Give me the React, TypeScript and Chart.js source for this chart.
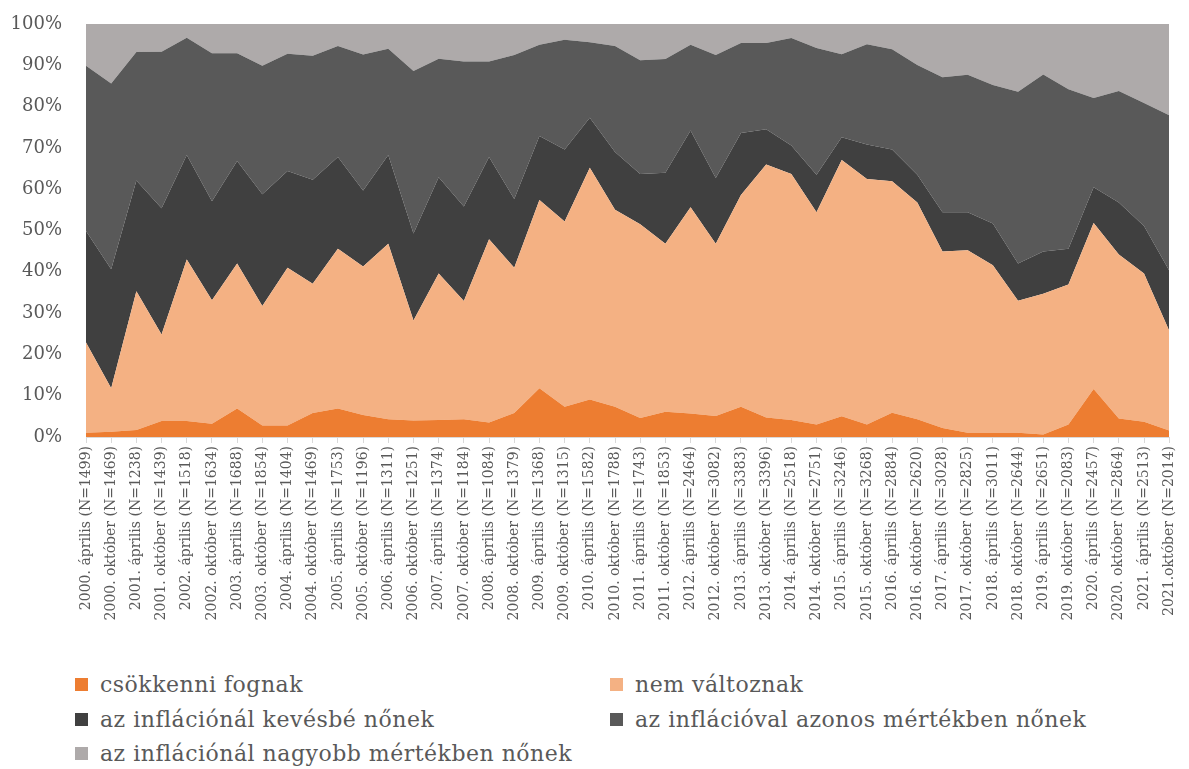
import React, { useEffect, useRef } from "react";
import { Chart, registerables } from "chart.js";

Chart.register(...registerables);

const categories = [
  "2000. április (N=1499)", "2000. október (N=1469)", "2001. április (N=1238)", "2001. október (N=1439)",
  "2002. április (N=1518)", "2002. október (N=1634)", "2003. április (N=1688)", "2003. október (N=1854)",
  "2004. április (N=1404)", "2004. október (N=1469)", "2005. április (N=1753)", "2005. október (N=1196)",
  "2006. április (N=1311)", "2006. október (N=1251)", "2007. április (N=1374)", "2007. október (N=1184)",
  "2008. április (N=1084)", "2008. október (N=1379)", "2009. április (N=1368)", "2009. október (N=1315)",
  "2010. április (N=1582)", "2010. október (N=1788)", "2011. április (N=1743)", "2011. október (N=1853)",
  "2012. április (N=2464)", "2012. október (N=3082)", "2013. április (N=3383)", "2013. október (N=3396)",
  "2014. április (N=2518)", "2014. október (N=2751)", "2015. április (N=3246)", "2015. október (N=3268)",
  "2016. április (N=2884)", "2016. október (N=2620)", "2017. április (N=3028)", "2017. október (N=2825)",
  "2018. április (N=3011)", "2018. október (N=2644)", "2019. április (N=2651)", "2019. október (N=2083)",
  "2020. április (N=2457)", "2020. október (N=2864)", "2021. április (N=2513)", "2021.október (N=2014)",
];

const csokkenni = [
  1.0, 1.3, 1.7, 3.9, 3.9, 3.2, 6.9, 2.8, 2.8, 5.8, 6.9, 5.3, 4.3, 4.0, 4.1, 4.3, 3.5, 5.8, 11.8, 7.3,
  9.1, 7.3, 4.6, 6.1, 5.7, 5.1, 7.3, 4.7, 4.1, 3.0, 5.0, 3.0, 5.9, 4.3, 2.2, 1.0, 1.0, 1.0, 0.6, 3.0,
  11.6, 4.5, 3.7, 1.6,
];
const nemValtoznak = [
  21.9, 10.5, 33.6, 20.9, 39.1, 29.9, 35.1, 28.9, 38.2, 31.3, 38.7, 36.0, 42.5, 24.2, 35.5, 28.6, 44.4, 35.2, 45.6, 44.9,
  56.1, 47.7, 46.9, 40.7, 49.9, 41.7, 51.3, 61.3, 59.6, 51.4, 62.1, 59.5, 56.0, 52.5, 42.7, 44.2, 40.6, 32.0, 34.1, 33.9,
  40.2, 39.7, 35.9, 24.1,
];
const kevesbe = [
  27.0, 28.8, 26.8, 30.6, 25.3, 24.0, 24.8, 27.1, 23.4, 25.2, 22.2, 18.4, 21.5, 21.1, 23.3, 22.9, 19.9, 16.6, 15.5, 17.4,
  12.1, 14.0, 12.2, 17.2, 18.6, 15.9, 15.0, 8.5, 6.9, 9.1, 5.5, 8.3, 7.7, 6.7, 9.5, 9.2, 10.1, 9.0, 10.2, 8.7,
  8.7, 12.6, 11.5, 14.6,
];
const azonos = [
  40.0, 45.0, 31.1, 37.9, 28.4, 35.8, 26.1, 31.1, 28.4, 30.0, 26.9, 32.9, 25.7, 39.3, 28.7, 35.1, 23.1, 34.9, 22.1, 26.6,
  18.3, 25.7, 27.5, 27.5, 20.8, 29.8, 21.8, 20.9, 26.0, 30.7, 20.1, 24.3, 24.3, 26.6, 32.7, 33.3, 33.5, 41.6, 42.9, 38.6,
  21.6, 27.0, 29.8, 37.6,
];
const nagyobb = [
  10.1, 14.4, 6.8, 6.7, 3.3, 7.1, 7.1, 10.1, 7.2, 7.7, 5.3, 7.4, 6.0, 11.4, 8.4, 9.1, 9.1, 7.5, 5.0, 3.8,
  4.4, 5.3, 8.8, 8.5, 5.0, 7.5, 4.6, 4.6, 3.4, 5.8, 7.3, 4.9, 6.1, 9.9, 12.9, 12.3, 14.8, 16.4, 12.2, 15.8,
  17.9, 16.2, 19.1, 22.1,
];

const seriesNames = [
  "csökkenni fognak",
  "nem változnak",
  "az inflációnál kevésbé nőnek",
  "az inflációval azonos mértékben nőnek",
  "az inflációnál nagyobb mértékben nőnek",
];
const seriesColors = ["#ED7D31", "#F4B183", "#404040", "#595959", "#AEAAAA"];
const yTicks = [0, 10, 20, 30, 40, 50, 60, 70, 80, 90, 100];

const FONT = "'DejaVu Serif', serif";
const TEXT = "#595959";

export default function App() {
  const ref = useRef<HTMLCanvasElement | null>(null);

  useEffect(() => {
    if (!ref.current) return;
    const values = [csokkenni, nemValtoznak, kevesbe, azonos, nagyobb];
    const chart = new Chart(ref.current, {
      type: "line",
      data: {
        labels: categories,
        datasets: values.map((v, i) => ({
          label: seriesNames[i],
          data: v,
          backgroundColor: seriesColors[i],
          borderColor: seriesColors[i],
          borderWidth: 0,
          pointRadius: 0,
          tension: 0,
          fill: i === 0 ? "origin" : "-1",
        })),
      },
      options: {
        animation: false,
        responsive: false,
        maintainAspectRatio: false,
        layout: { padding: { top: 24, right: 10, left: 0, bottom: 0 } },
        plugins: { legend: { display: false }, tooltip: { enabled: false } },
        scales: {
          x: {
            stacked: true,
            offset: false,
            grid: {
              drawOnChartArea: false,
              drawTicks: true,
              tickLength: 6,
              color: "#D9D9D9",
            },
            border: { display: true, color: "#D9D9D9" },
            ticks: {
              autoSkip: false,
              maxRotation: 90,
              minRotation: 90,
              padding: 3,
              color: TEXT,
              font: { family: FONT, size: 14 },
            },
            afterFit: (s: any) => {
              s.height = 220;
            },
          },
          y: {
            stacked: true,
            min: 0,
            max: 100,
            afterBuildTicks: (s: any) => {
              s.ticks = yTicks.map((v) => ({ value: v }));
            },
            grid: { display: false, drawTicks: false },
            border: { display: false },
            ticks: {
              padding: 24,
              color: TEXT,
              font: { family: FONT, size: 18 },
              callback: (v: any) => v + "%",
            },
            afterFit: (s: any) => {
              s.width = 86;
              s.paddingTop = 0;
              s.paddingBottom = 0;
            },
          },
        },
      },
    });
    return () => chart.destroy();
  }, []);

  const legendPos = [
    { x: 75, y: 684 },
    { x: 610, y: 684 },
    { x: 75, y: 719 },
    { x: 610, y: 719 },
    { x: 75, y: 753 },
  ];

  return (
    <div style={{ position: "fixed", left: 0, top: 0, width: 1189, height: 769, background: "#fff" }}>
      <canvas ref={ref} width={1189} height={657} style={{ position: "absolute", left: 0, top: 0 }} />
      {seriesNames.map((n, i) => (
        <div
          key={n}
          style={{
            position: "absolute",
            left: legendPos[i].x,
            top: legendPos[i].y - 15,
            height: 30,
            display: "flex",
            alignItems: "center",
            whiteSpace: "nowrap",
            fontFamily: FONT,
            fontSize: 22,
            letterSpacing: 0.5,
            color: TEXT,
          }}
        >
          <span
            style={{
              display: "inline-block",
              width: 13,
              height: 13,
              background: seriesColors[i],
              marginRight: 12,
            }}
          />
          <span>{n}</span>
        </div>
      ))}
    </div>
  );
}
